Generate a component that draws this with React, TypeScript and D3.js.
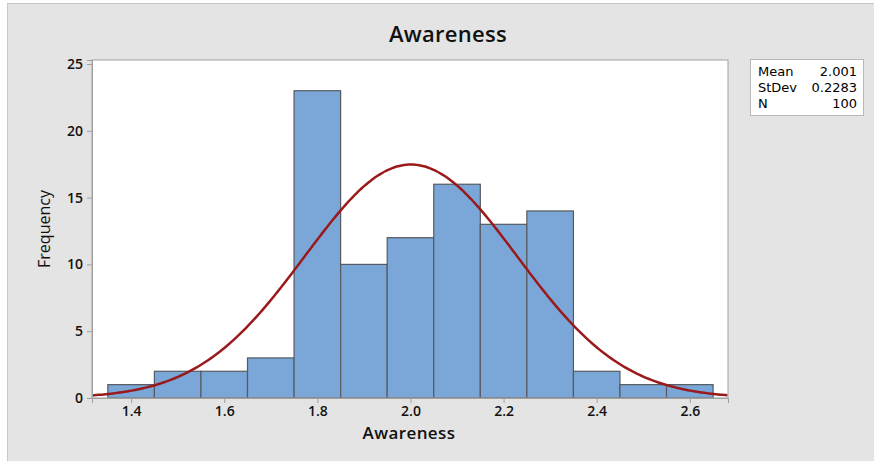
import React, { useEffect, useRef } from 'react';
import * as d3 from 'd3';

// histogram bins (midpoints) and counts
const binMids = [1.4, 1.5, 1.6, 1.7, 1.8, 1.9, 2.0, 2.1, 2.2, 2.3, 2.4, 2.5, 2.6];
const counts = [1, 2, 2, 3, 23, 10, 12, 16, 13, 14, 2, 1, 1];
const binWidth = 0.1;
const xTicks = [1.4, 1.6, 1.8, 2.0, 2.2, 2.4, 2.6];
const yTicks = [0, 5, 10, 15, 20, 25];
const statLabels = ['Mean', 'StDev', 'N'];
const statValues = ['2.001', '0.2283', '100'];
const mean = 2.001;
const stdev = 0.2283;
const n = 100;

const W = 874;
const H = 461;
const font = '"Open Sans", "DejaVu Sans", sans-serif';

export default function App() {
  const ref = useRef<SVGSVGElement>(null);

  useEffect(() => {
    const svg = d3.select(ref.current);
    svg.selectAll('*').remove();

    const left = 92, right = 728, top = 60, bottom = 398;
    const x = d3.scaleLinear().domain([1.316, 2.682]).range([left, right]);
    const y = d3.scaleLinear().domain([0, 25.3]).range([bottom, top]);

    // background
    svg.append('rect').attr('width', W).attr('height', H).attr('fill', '#fff');
    svg.append('rect')
      .attr('x', 7.5).attr('y', 3.5)
      .attr('width', W).attr('height', H)
      .attr('fill', '#e4e4e4')
      .attr('stroke', '#c8c8c8');

    // plot area
    svg.append('rect')
      .attr('x', left).attr('y', top)
      .attr('width', right - left).attr('height', bottom - top)
      .attr('fill', '#fff');

    // bars
    svg.append('g')
      .selectAll('rect')
      .data(binMids)
      .enter()
      .append('rect')
      .attr('x', (d) => x(d - binWidth / 2))
      .attr('y', (d, i) => y(counts[i]))
      .attr('width', (d) => x(d + binWidth / 2) - x(d - binWidth / 2))
      .attr('height', (d, i) => y(0) - y(counts[i]))
      .attr('fill', '#7ba7d8')
      .attr('stroke', '#555a60')
      .attr('stroke-width', 1.2);

    // fitted normal curve
    const pdf = (v: number) =>
      (n * binWidth) / (stdev * Math.sqrt(2 * Math.PI)) *
      Math.exp(-((v - mean) ** 2) / (2 * stdev * stdev));
    const xs = d3.range(1.316, 2.6821, 0.005);
    const line = d3.line<number>().x((d) => x(d)).y((d) => y(pdf(d))).curve(d3.curveBasis);
    svg.append('path')
      .datum(xs)
      .attr('d', line)
      .attr('fill', 'none')
      .attr('stroke', '#9a1a1c')
      .attr('stroke-width', 2.5);

    // plot frame
    svg.append('rect')
      .attr('x', left).attr('y', top)
      .attr('width', right - left).attr('height', bottom - top)
      .attr('fill', 'none')
      .attr('stroke', '#a0a0a0');

    // axes
    const yAxis = svg.append('g').attr('transform', `translate(${left},0)`)
      .call(d3.axisLeft(y).tickValues(yTicks).tickSize(5).tickPadding(4));
    const xAxis = svg.append('g').attr('transform', `translate(0,${bottom})`)
      .call(d3.axisBottom(x).tickValues(xTicks).tickSize(5).tickPadding(3).tickFormat(d3.format('.1f')));
    [yAxis, xAxis].forEach((a) => {
      a.select('.domain').attr('stroke', '#a0a0a0');
      a.selectAll('.tick line').attr('stroke', '#a0a0a0');
      a.selectAll('.tick text')
        .attr('fill', '#111')
        .style('font-family', font)
        .style('font-size', '14px')
        .style('font-weight', '600');
    });

    // title and labels
    svg.append('text')
      .attr('x', 448).attr('y', 42)
      .attr('text-anchor', 'middle')
      .style('font-family', font).style('font-size', '22px').style('font-weight', '600')
      .style('letter-spacing', '0.3px')
      .attr('fill', '#111')
      .text('Awareness');
    svg.append('text')
      .attr('x', 409).attr('y', 439)
      .attr('text-anchor', 'middle')
      .style('font-family', font).style('font-size', '17px').style('font-weight', '600')
      .style('letter-spacing', '0.4px')
      .attr('fill', '#111')
      .text('Awareness');
    svg.append('text')
      .attr('transform', 'translate(50,229) rotate(-90)')
      .attr('text-anchor', 'middle')
      .style('font-family', font).style('font-size', '16px').style('font-weight', '500')
      .attr('fill', '#111')
      .text('Frequency');

    // stats box
    svg.append('rect')
      .attr('x', 750.5).attr('y', 59.5)
      .attr('width', 113).attr('height', 56)
      .attr('fill', '#fff')
      .attr('stroke', '#b8b8b8');
    const stats = svg.append('g')
      .style('font-family', '"DejaVu Sans", sans-serif').style('font-size', '13px')
      .attr('fill', '#000');
    statLabels.forEach((lab, i) => {
      stats.append('text').attr('x', 758).attr('y', 76 + i * 16).text(lab);
      stats.append('text').attr('x', 857).attr('y', 76 + i * 16)
        .attr('text-anchor', 'end').text(statValues[i]);
    });
  }, []);

  return (
    <svg ref={ref} width={W} height={H} style={{ display: 'block', position: 'absolute', left: 0, top: 0 }} />
  );
}
